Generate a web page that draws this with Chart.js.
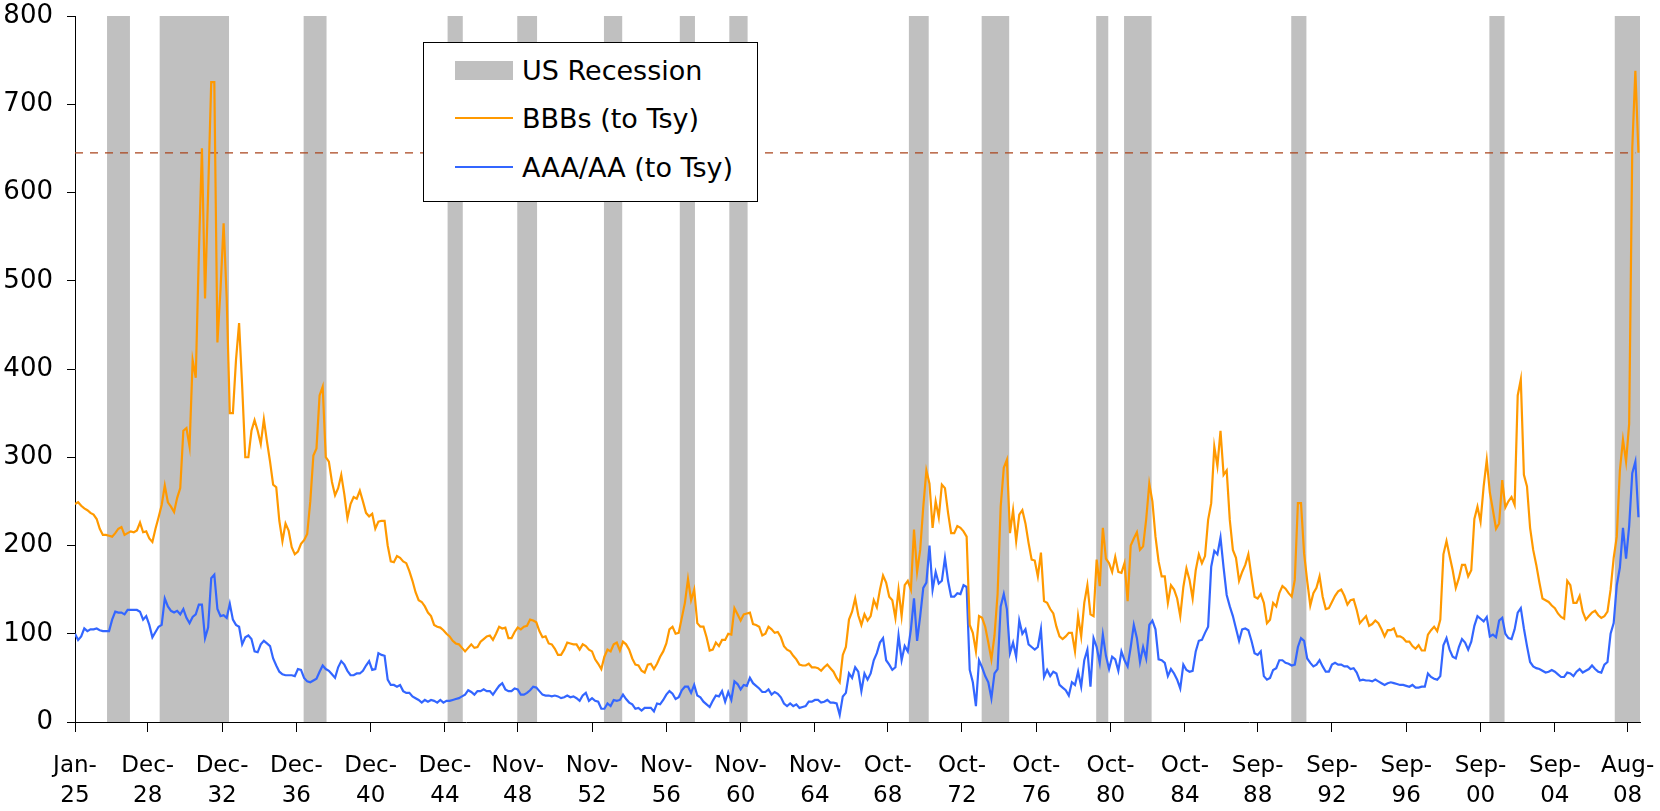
<!DOCTYPE html>
<html>
<head>
<meta charset="utf-8">
<script src="https://cdn.jsdelivr.net/npm/chart.js@4.4.1/dist/chart.umd.min.js"></script>
<style>
html,body{margin:0;padding:0;background:#fff;}
#wrap{position:relative;width:1660px;height:811px;}
#legend{position:absolute;left:423px;top:42px;width:333px;height:158px;border:1px solid #000;background:#fff;
  font-family:"DejaVu Sans",sans-serif;font-size:27px;color:#000;}
#legend .row{position:absolute;left:31px;height:40px;display:flex;align-items:center;white-space:nowrap;}
#legend .sw{width:58px;margin-right:9px;flex:none;}
#legend .rect{height:19px;background:#C0C0C0;}
#legend .line{height:2px;}
</style>
</head>
<body>
<div id="wrap">
  <canvas id="c" width="1660" height="811"></canvas>
  <div id="legend">
    <div class="row" style="top:7px"><span class="sw rect"></span><span>US Recession</span></div>
    <div class="row" style="top:55px"><span class="sw line" style="background:#FF9900"></span><span>BBBs (to Tsy)</span></div>
    <div class="row" style="top:104px"><span class="sw line" style="background:#3366FF"></span><span>AAA/AA (to Tsy)</span></div>
  </div>
</div>
<script>
// sampling step of the series, in months, starting Jan-1925
const STEP_MONTHS = 2;

const tickLabels = ["Jan-25","Dec-28","Dec-32","Dec-36","Dec-40","Dec-44","Nov-48","Nov-52","Nov-56","Nov-60","Nov-64",
  "Oct-68","Oct-72","Oct-76","Oct-80","Oct-84","Sep-88","Sep-92","Sep-96","Sep-00","Sep-04","Aug-08"];

// US recessions (peak month, trough month)
const recessions = [["Oct-26","Nov-27"],["Aug-29","Mar-33"],["May-37","Jun-38"],["Feb-45","Oct-45"],["Nov-48","Oct-49"],
  ["Jul-53","May-54"],["Aug-57","Apr-58"],["Apr-60","Feb-61"],["Dec-69","Nov-70"],["Nov-73","Mar-75"],["Jan-80","Jul-80"],
  ["Jul-81","Nov-82"],["Jul-90","Mar-91"],["Mar-01","Nov-01"],["Dec-07","Jun-09"]];

// BBB spread to Treasuries (bp), every 2 months from Jan-25
const bbb = [
247,249,245,242,240,237,235,230,219,212,212,211,
210,214,219,221,212,214,216,215,217,226,215,216,
208,204,219,232,246,268,249,244,238,254,265,330,
333,312,410,390,530,650,480,600,725,725,430,490,
565,480,350,350,410,452,380,300,300,330,342,330,
315,343,318,295,269,266,228,205,225,217,198,190,
193,202,206,213,250,302,310,370,380,300,295,272,
257,265,280,258,231,247,255,253,262,250,237,233,
236,219,227,228,228,200,182,181,188,186,182,180,
171,160,147,138,136,131,124,120,110,108,107,104,
100,97,92,89,88,84,80,84,88,84,85,91,
94,97,98,93,100,108,106,107,95,95,102,107,
105,108,109,116,115,113,103,96,97,89,88,83,
76,76,82,90,89,88,88,82,88,86,82,80,
71,66,60,74,82,80,88,90,81,91,88,82,
72,65,64,58,56,65,66,60,66,74,80,89,
105,108,100,101,118,135,162,138,150,112,108,108,
96,81,82,90,86,93,93,100,99,129,122,115,
122,123,124,111,110,108,98,100,108,105,101,102,
96,86,82,80,75,71,65,64,64,66,62,62,
61,58,62,65,61,57,50,45,76,85,116,125,
140,121,110,122,115,120,138,130,150,166,158,142,
138,118,150,120,155,160,150,218,170,195,244,285,
270,220,250,232,269,265,237,214,214,222,220,216,
210,110,101,80,120,118,108,90,71,98,145,244,
288,297,214,240,205,235,240,225,203,184,183,165,
192,137,135,128,123,108,97,94,97,101,101,80,
120,97,135,155,122,120,184,154,220,185,180,170,
187,170,169,180,137,200,208,215,195,199,230,270,
250,210,182,165,165,135,155,150,140,120,153,174,
161,140,172,190,180,188,229,248,312,290,330,280,
285,229,195,186,160,170,178,190,165,142,140,145,
135,112,116,135,131,146,154,151,146,142,161,248,
248,191,160,132,146,152,165,142,128,129,136,143,
148,150,143,133,138,139,127,112,116,120,109,111,
115,112,105,97,104,104,106,97,97,95,91,91,
86,83,87,81,81,99,104,108,103,116,190,205,
188,172,152,163,178,178,165,172,230,244,227,267,
297,260,240,219,225,274,243,250,255,246,370,388,
280,267,220,195,178,158,140,138,136,132,129,123,
119,117,160,155,135,135,143,125,116,120,124,126,
121,118,120,125,150,186,210,285,320,295,338,650,
738,645];

// AAA/AA spread to Treasuries (bp), every 2 months from Jan-25
const aaa = [
100,93,97,106,103,105,105,106,104,103,103,103,
116,125,124,124,122,127,127,127,127,125,116,120,
110,96,102,108,110,140,131,126,124,126,122,128,
118,112,119,122,133,133,95,107,163,167,128,120,
121,118,134,116,110,108,88,96,98,94,80,79,
88,92,89,86,72,64,57,54,53,53,53,52,
60,59,50,46,45,47,49,57,64,60,58,54,
50,62,69,65,58,53,53,55,55,58,64,69,
59,60,78,76,75,48,42,42,40,42,35,33,
33,29,27,25,22,25,23,25,24,22,25,22,
24,24,25,26,27,29,31,36,34,31,35,35,
37,35,35,31,36,41,44,37,35,35,38,37,
31,31,33,36,40,39,35,31,30,30,29,30,
29,27,28,30,28,29,27,24,30,33,24,27,
24,23,15,15,21,18,25,24,25,31,26,22,
20,15,16,13,16,16,16,12,21,20,25,31,
35,32,26,28,36,40,40,33,42,30,28,23,
20,17,24,30,29,35,23,34,25,46,43,37,
42,41,50,44,41,38,34,34,37,31,34,32,
28,21,18,21,18,20,16,17,18,23,23,25,
25,22,23,25,22,22,21,8,29,33,55,50,
62,57,35,55,48,55,70,78,90,95,70,65,
59,62,98,70,86,80,105,140,92,120,152,158,
200,150,170,157,160,186,160,142,142,146,145,155,
153,59,45,18,70,62,52,45,27,55,60,131,
145,128,78,90,74,115,100,105,88,85,82,85,
105,51,59,52,57,55,42,39,36,30,45,42,
57,40,70,82,40,95,85,67,99,75,60,74,
71,58,80,70,63,85,110,95,68,85,72,110,
115,105,71,70,67,52,60,55,48,38,65,59,
57,58,80,92,93,101,108,176,194,190,209,175,
144,131,120,106,92,105,106,104,92,78,76,80,
52,48,50,59,61,70,70,67,66,64,65,85,
95,92,72,67,63,65,70,63,57,57,65,67,
65,65,63,63,60,61,56,47,48,47,47,46,
48,46,44,42,44,45,44,43,42,42,41,40,
42,39,39,40,40,55,51,49,48,52,87,95,
82,74,72,85,94,90,82,91,109,120,117,114,
119,97,99,96,115,118,100,95,94,105,124,129,
106,86,68,63,61,60,58,56,57,59,57,54,
51,51,56,55,52,57,60,56,58,60,64,60,
57,56,65,68,100,112,155,175,220,185,222,282,
295,232];

const Y_MAX = 800;
const X_MAX_MONTH = 1011;
const MONTHS = ["Jan","Feb","Mar","Apr","May","Jun","Jul","Aug","Sep","Oct","Nov","Dec"];

function monthIndex(lbl) {
  const parts = lbl.split("-");
  let y = parseInt(parts[1], 10);
  y += (y < 25) ? 2000 : 1900;
  return (y - 1925) * 12 + MONTHS.indexOf(parts[0]);
}

const labelByMonth = {};
tickLabels.forEach(l => { labelByMonth[monthIndex(l)] = l; });

const bbbPts = bbb.map((v, i) => ({x: i * STEP_MONTHS, y: v}));
const aaaPts = aaa.map((v, i) => ({x: i * STEP_MONTHS, y: v}));
const currentLevel = bbb[bbb.length - 1];
const dashPts = [{x: 0, y: currentLevel}, {x: (bbb.length - 2) * STEP_MONTHS, y: currentLevel}];

// recession shading: each month drawn as a full-month column, like the original bars
const recPts = [];
recessions.forEach(r => {
  const a = monthIndex(r[0]) - 0.3, b = monthIndex(r[1]) + 1.5;
  recPts.push({x: a, y: 0}, {x: a, y: Y_MAX}, {x: b, y: Y_MAX}, {x: b, y: 0});
});

const FONT = "'DejaVu Sans', sans-serif";

new Chart(document.getElementById("c"), {
  type: "line",
  data: {
    datasets: [
      {label: "BBBs (to Tsy)", data: bbbPts, borderColor: "#FF9900", borderWidth: 2.2, pointRadius: 0, tension: 0, order: 0},
      {label: "AAA/AA (to Tsy)", data: aaaPts, borderColor: "#3366FF", borderWidth: 2.2, pointRadius: 0, tension: 0, order: 1},
      {label: "Current", data: dashPts, borderColor: "#A9441C", borderWidth: 1.2, borderDash: [8, 7], pointRadius: 0, order: 2},
      {label: "US Recession", data: recPts, borderColor: "rgba(0,0,0,0)", borderWidth: 0, backgroundColor: "#C0C0C0",
       fill: "origin", pointRadius: 0, tension: 0, order: 3}
    ]
  },
  options: {
    responsive: false,
    animation: false,
    layout: {padding: {top: 16, right: 20, left: 0, bottom: 0}},
    plugins: {legend: {display: false}, tooltip: {enabled: false}},
    scales: {
      x: {
        type: "linear", min: 0, max: X_MAX_MONTH,
        afterBuildTicks: s => { s.ticks = tickLabels.map(l => ({value: monthIndex(l)})); },
        afterFit: s => { s.height = 89; s.paddingLeft = 0; s.paddingRight = 0; },
        ticks: {
          autoSkip: false, maxRotation: 0, minRotation: 0, padding: 19, color: "#000",
          font: {family: FONT, size: 23, lineHeight: 30 / 23},
          callback: v => {
            const l = labelByMonth[v];
            if (!l) return "";
            const p = l.split("-");
            return [p[0] + "-", p[1]];
          }
        },
        grid: {drawOnChartArea: false, drawTicks: true, tickLength: 10, color: "#000"},
        border: {display: true, color: "#000", width: 1}
      },
      y: {
        min: 0, max: Y_MAX,
        afterFit: s => { s.width = 75; s.paddingTop = 0; s.paddingBottom = 0; },
        ticks: {stepSize: 100, padding: 14, color: "#000", font: {family: FONT, size: 26}},
        grid: {drawOnChartArea: false, drawTicks: true, tickLength: 8, color: "#000"},
        border: {display: true, color: "#000", width: 1}
      }
    }
  }
});
</script>
</body>
</html>
